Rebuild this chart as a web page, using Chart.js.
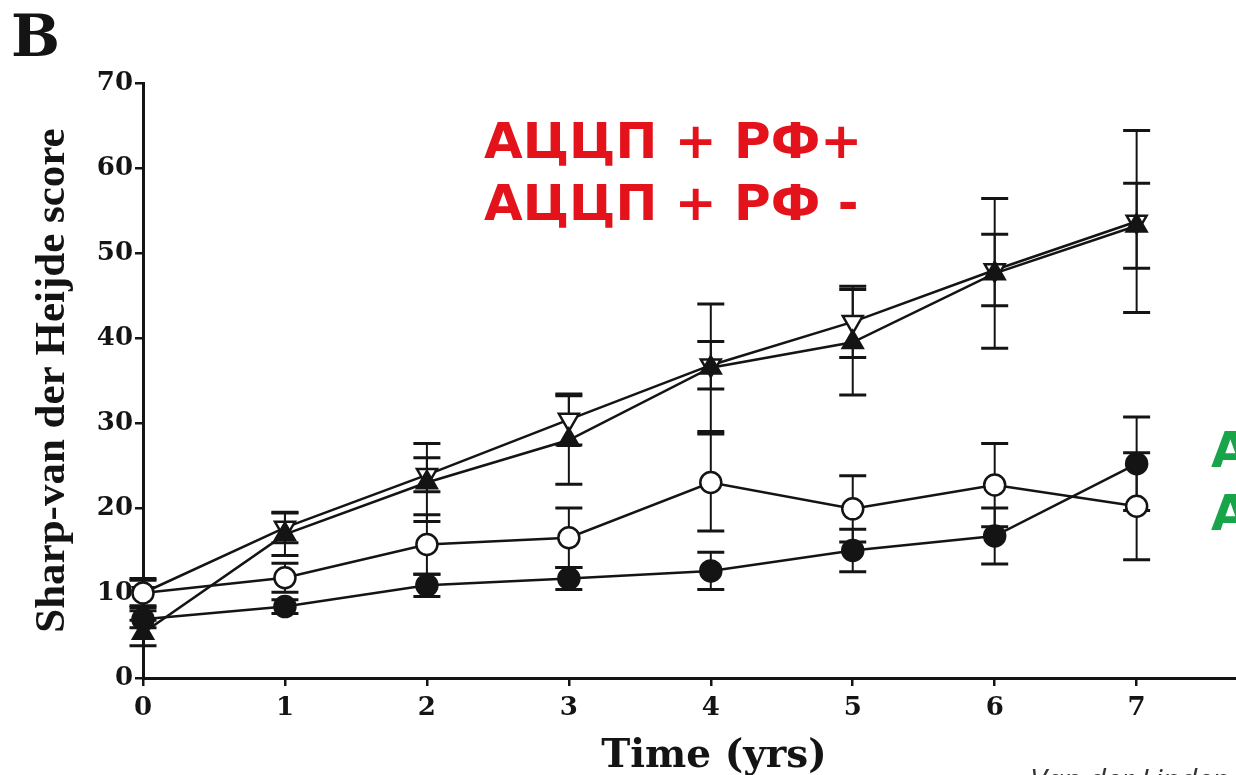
<!DOCTYPE html>
<html>
<head>
<meta charset="utf-8">
<script src="https://cdn.jsdelivr.net/npm/chart.js@4"></script>
<style>
  html, body { margin: 0; padding: 0; background: #fff; }
  #chart { display: block; }
</style>
</head>
<body>
<canvas id="chart" width="1236" height="775"></canvas>
<script>
// Datos (Sharp-van der Heijde score vs. tiempo)
const years = [0, 1, 2, 3, 4, 5, 6, 7];
const yTicks = [0, 10, 20, 30, 40, 50, 60, 70];

// triángulo abierto hacia abajo
const openTri = [10.0, 17.7, 23.9, 30.4, 36.8, 41.9, 48.0, 53.7];
const openTriErr = [1.7, 1.8, 2.0, 3.0, 2.8, 4.2, 4.2, 10.7];
// triángulo relleno hacia arriba
const filledTri = [5.3, 16.9, 23.0, 28.0, 36.5, 39.5, 47.6, 53.2];
const filledTriErr = [1.5, 2.5, 4.6, 5.2, 7.5, 6.2, 8.8, 5.0];
// círculo abierto
const openCircle = [10.0, 11.8, 15.7, 16.5, 23.0, 19.9, 22.7, 20.2];
const openCircleErr = [1.5, 1.7, 3.5, 3.5, 5.7, 3.9, 4.9, 6.3];
// círculo relleno
const filledCircle = [6.9, 8.4, 10.9, 11.7, 12.6, 15.0, 16.7, 25.2];
const filledCircleErr = [1.0, 0.8, 1.3, 1.3, 2.2, 2.5, 3.3, 5.5];

const redLabels = ["АЦЦП + РФ+", "АЦЦП + РФ -"];
const greenLabels = ["АЦЦП - РФ+", "АЦЦП - РФ -"];
const xTitle = "Time (yrs)";

const INK = "#141414";

function pts(values) {
  return years.map((t, i) => ({ x: t, y: values[i] }));
}

function series(values, errors, style, fill, rotation) {
  return {
    data: pts(values),
    errors: errors,
    borderColor: INK,
    borderWidth: 2.5,
    pointStyle: style,
    pointRotation: rotation || 0,
    pointRadius: style === "triangle" ? 11.5 : 10.5,
    pointBorderWidth: 2.5,
    pointBorderColor: INK,
    pointBackgroundColor: fill,
    tension: 0,
    clip: false
  };
}

// barras de error dibujadas con las escalas del gráfico
const errorBars = {
  id: "errorBars",
  beforeDatasetsDraw(chart) {
    const { ctx, scales: { x, y } } = chart;
    ctx.save();
    ctx.strokeStyle = INK;
    chart.data.datasets.forEach(ds => {
      ds.data.forEach((p, i) => {
        const e = ds.errors[i];
        const px = x.getPixelForValue(p.x);
        const top = y.getPixelForValue(p.y + e);
        const bot = y.getPixelForValue(p.y - e);
        ctx.lineWidth = 2;
        ctx.beginPath();
        ctx.moveTo(px, top);
        ctx.lineTo(px, bot);
        ctx.stroke();
        ctx.lineWidth = 3;
        ctx.beginPath();
        ctx.moveTo(px - 13.5, top);
        ctx.lineTo(px + 13.5, top);
        ctx.moveTo(px - 13.5, bot);
        ctx.lineTo(px + 13.5, bot);
        ctx.stroke();
      });
    });
    ctx.restore();
  }
};

// textos sueltos: letra del panel, título del eje x, etiquetas de grupos, cita
const annotations = {
  id: "annotations",
  afterDraw(chart) {
    const ctx = chart.ctx;
    ctx.save();
    ctx.textAlign = "left";
    ctx.textBaseline = "alphabetic";

    ctx.fillStyle = INK;
    ctx.font = "bold 58px 'DejaVu Serif'";
    ctx.fillText("B", 11, 56);

    ctx.textAlign = "center";
    ctx.font = "bold 39px 'DejaVu Serif'";
    ctx.fillText(xTitle, 714, 767);
    ctx.textAlign = "left";

    ctx.font = "bold 50px 'DejaVu Sans'";
    ctx.fillStyle = "#e3121b";
    ctx.fillText(redLabels[0], 484, 158);
    ctx.fillText(redLabels[1], 484, 220);

    ctx.fillStyle = "#18a54a";
    ctx.fillText(greenLabels[0], 1211, 467);
    ctx.fillText(greenLabels[1], 1211, 530);

    ctx.fillStyle = "#333";
    ctx.font = "italic 30px 'Open Sans'";
    ctx.fillText("Van der Linden", 1030, 790);
    ctx.restore();
  }
};

new Chart(document.getElementById("chart"), {
  type: "line",
  data: {
    datasets: [
      series(filledCircle, filledCircleErr, "circle", INK),
      series(openCircle, openCircleErr, "circle", "#fff"),
      series(filledTri, filledTriErr, "triangle", INK),
      series(openTri, openTriErr, "triangle", "#fff", 180)
    ]
  },
  options: {
    responsive: false,
    animation: false,
    devicePixelRatio: 1,
    layout: { autoPadding: false, padding: { top: 83, right: 0, left: 0, bottom: 0 } },
    plugins: {
      legend: { display: false },
      tooltip: { enabled: false }
    },
    scales: {
      x: {
        type: "linear",
        min: 0,
        max: 7.7,
        afterBuildTicks: s => { s.ticks = years.map(v => ({ value: v })); },
        afterFit: s => { s.height = 97; s.paddingRight = 0; s.paddingLeft = 0; },
        border: { display: true, color: INK, width: 3 },
        grid: { drawOnChartArea: false, drawTicks: true, tickLength: 8, color: INK, lineWidth: 2.5 },
        ticks: {
          color: INK,
          padding: 7,
          maxRotation: 0,
          font: { family: "'DejaVu Serif'", weight: "bold", size: 26 }
        },
        title: { display: false }
      },
      y: {
        min: 0,
        max: 70,
        afterBuildTicks: s => { s.ticks = yTicks.map(v => ({ value: v })); },
        afterFit: s => { s.width = 143; },
        border: { display: true, color: INK, width: 3 },
        grid: { drawOnChartArea: false, drawTicks: true, tickLength: 8, color: INK, lineWidth: 2.5 },
        ticks: {
          color: INK,
          padding: 2,
          font: { family: "'DejaVu Serif'", weight: "bold", size: 26 }
        },
        title: {
          display: true,
          text: "Sharp-van der Heijde score",
          color: INK,
          padding: { top: 27, bottom: 0 },
          font: { family: "'Liberation Serif'", weight: "bold", size: 43 }
        }
      }
    }
  },
  plugins: [errorBars, annotations]
});
</script>
</body>
</html>
